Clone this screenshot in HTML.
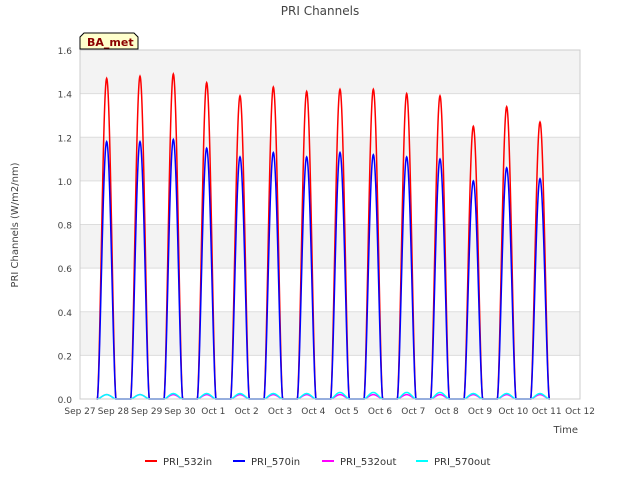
<!DOCTYPE html>
<html><head><meta charset="utf-8"><style>
body{margin:0;background:#fff;font-family:"Liberation Sans","DejaVu Sans",sans-serif}
</style></head><body>
<svg width="640" height="480" xmlns="http://www.w3.org/2000/svg" font-family="DejaVu Sans, Liberation Sans, sans-serif">
<g id="bands"></g>
<g id="grid"></g>
<g id="series"></g>
<g id="axes"></g>
<text x="320" y="15" text-anchor="middle" font-size="12" fill="#444">PRI Channels</text>
<text x="18" y="225" text-anchor="middle" font-size="10" fill="#444" transform="rotate(-90 18 225)">PRI Channels (W/m2/nm)</text>
<text x="578" y="433" text-anchor="end" font-size="10" fill="#444">Time</text>
<g>
<path d="M80,49 L80,37 L84,33 L134,33 L138,37 L138,49 Z" fill="#ffffcc" stroke="#000" stroke-width="1"/>
<text x="87" y="46" font-size="11" font-weight="bold" fill="#8b0000">BA_met</text>
</g>
<g id="legend"></g>
</svg>
<script>
const days=["Sep 27","Sep 28","Sep 29","Sep 30","Oct 1","Oct 2","Oct 3","Oct 4","Oct 5","Oct 6","Oct 7","Oct 8","Oct 9","Oct 10","Oct 11","Oct 12"];
const yTicks=[0.0,0.2,0.4,0.6,0.8,1.0,1.2,1.4,1.6];
const peak532in=[1.47,1.48,1.49,1.45,1.39,1.43,1.41,1.42,1.42,1.40,1.39,1.25,1.34,1.27];
const peak570in=[1.18,1.18,1.19,1.15,1.11,1.13,1.11,1.13,1.12,1.11,1.10,1.00,1.06,1.01];
const peak532out=[0.02,0.02,0.02,0.02,0.02,0.02,0.02,0.02,0.02,0.02,0.02,0.02,0.02,0.02];
const peak570out=[0.02,0.02,0.025,0.025,0.025,0.025,0.025,0.03,0.03,0.03,0.03,0.025,0.025,0.025];
const NS="http://www.w3.org/2000/svg";
const X0=80,X1=580,Y0=399,Y1=50;
const xs=d=>X0+(d/15)*(X1-X0);
const ys=v=>Y0-(v/1.6)*(Y0-Y1);
function mk(t,a,p){const e=document.createElementNS(NS,t);for(const k in a)e.setAttribute(k,a[k]);(p||document.querySelector('svg')).appendChild(e);return e;}
const bands=document.getElementById('bands'),grid=document.getElementById('grid'),axes=document.getElementById('axes'),series=document.getElementById('series'),legend=document.getElementById('legend');
for(let i=1;i<yTicks.length;i+=2){const r=mk('rect',{x:X0,y:ys(yTicks[i+1]||1.6),width:X1-X0,height:ys(yTicks[i])-ys(yTicks[i+1]||1.6),fill:'#f3f3f3'},bands);

}
yTicks.forEach(v=>{const l=mk('line',{x1:X0,x2:X1,y1:ys(v),y2:ys(v),stroke:'#ddd'},grid);


const t=mk('text',{x:X0-8,y:ys(v)+4,'text-anchor':'end','font-size':9,fill:'#444'},axes);t.textContent=v.toFixed(1);

});
days.forEach((d,i)=>{const t=mk('text',{x:xs(i),y:414,'text-anchor':'middle','font-size':9,fill:'#444'},axes);t.textContent=d;

});
const fr=mk('rect',{x:X0,y:Y1,width:X1-X0,height:Y0-Y1,fill:'none',stroke:'#ccc'},axes);


function shape(f){const a=0.52,b=1.08,pk=0.8;if(f<a||f>b)return 0;let u=f<pk?(f-a)/(pk-a):(b-f)/(b-pk);return Math.pow(Math.sin(u*Math.PI/2),1.6);}
function path(peaks){let d='';for(let i=0;i<peaks.length;i++){for(let s=0;s<=60;s++){const f=0.5+s*0.6/60;const v=peaks[i]*shape(f);d+=(d?'L':'M')+xs(i+f).toFixed(2)+','+ys(v).toFixed(2);}}return d;}
const ser=[["PRI_532in",peak532in,"#ff0000"],["PRI_570in",peak570in,"#0000ff"],["PRI_532out",peak532out,"#ff00ff"],["PRI_570out",peak570out,"#00ffff"]];
ser.forEach(s=>{const p=mk('path',{d:path(s[1]),fill:'none',stroke:s[2],'stroke-width':1.5},series);

});
const lx=[145,233,322,416];
ser.forEach((s,i)=>{const l=mk('line',{x1:lx[i],x2:lx[i]+12,y1:461,y2:461,stroke:s[2],'stroke-width':2},legend);


const t=mk('text',{x:lx[i]+18,y:465,'font-size':10,fill:'#333'},legend);t.textContent=s[0];

});
</script>
</body></html>
